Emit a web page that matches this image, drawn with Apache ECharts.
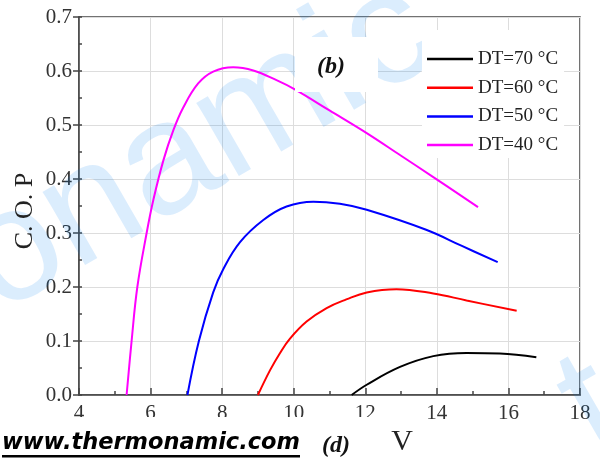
<!DOCTYPE html>
<html>
<head>
<meta charset="utf-8">
<script src="https://cdn.jsdelivr.net/npm/echarts@6/dist/echarts.min.js"></script>
<style>
html, body { margin: 0; padding: 0; background: #fff; }
#main { width: 600px; height: 460px; }
</style>
</head>
<body>
<div id="main"></div>
<script>
let v70 = [11.62, 12.04, 12.97, 13.9, 14.83, 15.76, 16.78];
let cop70 = [0, 0.019, 0.052, 0.072, 0.078, 0.077, 0.070];

let v60 = [9.0, 9.34, 9.61, 9.89, 10.36, 10.92, 11.47, 12.04, 12.87, 13.9, 14.83, 16.23];
let cop60 = [0, 0.046, 0.077, 0.104, 0.136, 0.161, 0.177, 0.19, 0.196, 0.188, 0.175, 0.156];

let v50 = [7.03, 7.35, 7.75, 8.03, 8.5, 9.15, 9.8, 10.55, 11.29, 12.04, 13.7, 14.7, 15.7];
let cop50 = [0, 0.1, 0.19, 0.233, 0.283, 0.324, 0.349, 0.358, 0.354, 0.343, 0.306, 0.276, 0.246];

let v40 = [5.33, 5.47, 5.63, 5.89, 6.08, 6.36, 6.64, 6.91, 7.33, 7.75, 8.31, 8.87, 9.52, 10.03, 11.0, 12.04, 13.0, 13.89, 15.15];
let cop40 = [0, 0.1, 0.2, 0.3, 0.362, 0.435, 0.491, 0.532, 0.577, 0.599, 0.607, 0.601, 0.583, 0.566, 0.527, 0.485, 0.443, 0.404, 0.348];

let names = ['DT=70 °C', 'DT=60 °C', 'DT=50 °C', 'DT=40 °C'];
let colors = ['#000000', '#ff0000', '#0000ff', '#ff00ff'];

let serif = '"Liberation Serif", "DejaVu Serif", serif';
let wmFont = '"Liberation Sans", Arial, sans-serif';
let wmColor = 'rgba(0,130,240,0.14)';

function pairs(v, c) {
    return v.map((x, i) => [x, c[i]]);
}

// watermark letters, one by one along a tilted line
function wmLetter(ch, x, y, size) {
    return {
        type: 'text', x: x, y: y, rotation: Math.PI / 6, z: 1, silent: true,
        style: { text: ch, font: size + 'px ' + wmFont, fill: wmColor,
            textAlign: 'center', textVerticalAlign: 'middle' }
    };
}

let myChart = echarts.init(document.getElementById('main'));

let lines = [[v70, cop70], [v60, cop60], [v50, cop50], [v40, cop40]].map((d, i) => ({
    name: names[i],
    type: 'line',
    data: pairs(d[0], d[1]),
    smooth: 0.4,
    symbol: 'none',
    z: 3,
    lineStyle: { color: colors[i], width: 2 },
    itemStyle: { color: colors[i] }
}));

let option = {
    backgroundColor: '#fff',
    animation: false,
    grid: {
        left: 79, right: 20, top: 17, bottom: 65,
        show: true, borderColor: '#444', borderWidth: 1.5, backgroundColor: 'transparent'
    },
    xAxis: {
        type: 'value', min: 4, max: 18, interval: 2,
        axisLine: { lineStyle: { color: '#444', width: 1.5 } },
        axisTick: { inside: true, length: 7, lineStyle: { color: '#444', width: 1.5 } },
        minorTick: { show: true, splitNumber: 2, length: 4, lineStyle: { color: '#444', width: 1.5 } },
        splitLine: { show: true, lineStyle: { color: '#dddddd', width: 1 } },
        axisLabel: { fontFamily: serif, fontSize: 21, color: '#333', margin: 8 }
    },
    yAxis: [{
        type: 'value', min: 0, max: 0.7, interval: 0.1,
        axisLine: { show: true, lineStyle: { color: '#444', width: 1.5 } },
        axisTick: { show: true, inside: false, length: 6, lineStyle: { color: '#444', width: 1.5 } },
        splitLine: { show: true, lineStyle: { color: '#dddddd', width: 1 } },
        axisLabel: { fontFamily: serif, fontSize: 21, color: '#333', margin: 7,
            formatter: v => v.toFixed(1) }
    }, {
        // small inner ticks every 0.05
        type: 'value', min: 0, max: 0.7, interval: 0.05, position: 'left',
        axisLine: { show: false },
        axisTick: { show: true, inside: true, length: 3, lineStyle: { color: '#444', width: 1.5 } },
        splitLine: { show: false },
        axisLabel: { show: false }
    }],
    legend: {
        data: names,
        orient: 'vertical',
        left: 422, top: 30,
        padding: [19, 6, 3, 5],
        backgroundColor: '#fff',
        icon: 'rect',
        itemWidth: 46, itemHeight: 2.5, itemGap: 8.7,
        z: 60,
        textStyle: { fontFamily: serif, fontSize: 19, color: '#222', lineHeight: 20 }
    },
    graphic: [
        wmLetter('o', 15, 254, 160),
        wmLetter('n', 92, 210, 160),
        wmLetter('a', 169, 165, 160),
        wmLetter('m', 265, 110, 160),
        wmLetter('i', 338, 68, 160),
        wmLetter('c', 388, 39, 160),
        wmLetter('t', 594, 410, 160),
        {
            type: 'rect', z: 100, silent: true,
            shape: { x: 295, y: 37, width: 83, height: 55 },
            style: { fill: '#fff' }
        },
        {
            type: 'text', x: 331, y: 67, z: 101,
            style: { text: '(b)', font: 'italic bold 24px ' + serif, fill: '#111',
                textAlign: 'center', textVerticalAlign: 'middle' }
        },
        {
            type: 'text', x: 25, y: 211, rotation: Math.PI / 2, z: 101,
            style: { text: 'C. O. P', font: '26px ' + serif, fill: '#222',
                textAlign: 'center', textVerticalAlign: 'middle' }
        },
        {
            type: 'rect', z: 100, silent: true,
            shape: { x: 0, y: 417, width: 400, height: 43 },
            style: { fill: '#fff' }
        },
        {
            type: 'text', x: 402, y: 442, z: 101,
            style: { text: 'V', font: '30px ' + serif, fill: '#222',
                textAlign: 'center', textVerticalAlign: 'middle' }
        },
        {
            type: 'text', x: 2, y: 443, z: 101,
            style: { text: 'www.thermonamic.com', font: 'italic bold 22.5px "DejaVu Sans", Verdana, sans-serif',
                fill: '#000', textAlign: 'left', textVerticalAlign: 'middle' }
        },
        {
            type: 'rect', z: 101, silent: true,
            shape: { x: 2, y: 455, width: 298, height: 2.5 },
            style: { fill: '#000' }
        },
        {
            type: 'text', x: 336, y: 446, z: 101,
            style: { text: '(d)', font: 'italic bold 24px ' + serif, fill: '#111',
                textAlign: 'center', textVerticalAlign: 'middle' }
        }
    ],
    series: lines
};

myChart.setOption(option);
</script>
</body>
</html>
